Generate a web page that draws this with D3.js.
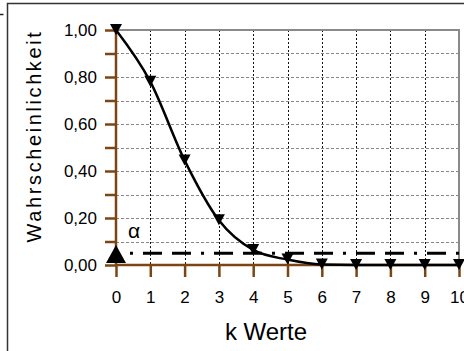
<!DOCTYPE html>
<html>
<head>
<meta charset="utf-8">
<script src="https://cdnjs.cloudflare.com/ajax/libs/d3/7.8.5/d3.min.js"></script>
<style>
  body { margin: 0; background: #fff; }
  text { font-family: Arial, "Liberation Sans", sans-serif; }
</style>
</head>
<body>
<script>
'use strict';

// chart values
const kValues = [0, 1, 2, 3, 4, 5, 6, 7, 8, 9, 10];
const probValues = [1.00, 0.78, 0.445, 0.19, 0.064, 0.023, 0.002, 0.0, 0.0, 0.0, 0.0];
const yTickValues = [0, 0.1, 0.2, 0.3, 0.4, 0.5, 0.6, 0.7, 0.8, 0.9, 1.0];
const alphaLevel = 0.05;

(function() {
  const brown = "#7c4614";

  const svg = d3.select('body')
    .append('svg')
    .attr('width', 464)
    .attr('height', 351);

  // outer frame (only left and top edges visible)
  svg.append('path')
    .attr('d', 'M7.5,360 L7.5,3.5 L470,3.5')
    .attr('fill', 'none')
    .attr('stroke', '#333')
    .attr('stroke-width', 1.5);
  svg.append('line')
    .attr('x1', 0).attr('x2', 3.5)
    .attr('y1', 14.5).attr('y2', 14.5)
    .attr('stroke', '#222').attr('stroke-width', 1.5);

  const xScale = d3.scaleLinear().domain([0, 10]).range([116, 459]);
  const yScale = d3.scaleLinear().domain([0, 1]).range([265, 30]);

  // horizontal grid (gray dotted)
  svg.append('g')
    .selectAll('line')
    .data(yTickValues.filter(v => v > 0 && v < 1))
    .enter()
    .append('line')
      .attr('x1', xScale(0)).attr('x2', xScale(10))
      .attr('y1', d => Math.round(yScale(d)) + 0.5)
      .attr('y2', d => Math.round(yScale(d)) + 0.5)
      .attr('stroke', '#888')
      .attr('stroke-width', 1)
      .attr('stroke-dasharray', '3,2');

  // vertical grid (black dotted)
  svg.append('g')
    .selectAll('line')
    .data(kValues.filter(k => k > 0 && k < 10))
    .enter()
    .append('line')
      .attr('x1', d => Math.round(xScale(d)) + 0.5)
      .attr('x2', d => Math.round(xScale(d)) + 0.5)
      .attr('y1', yScale(1)).attr('y2', yScale(0))
      .attr('stroke', '#111')
      .attr('stroke-width', 1)
      .attr('stroke-dasharray', '2,2');

  // top and right plot border (gray)
  svg.append('path')
    .attr('d', `M${xScale(0)},${yScale(1)} L${xScale(10)},${yScale(1)} L${xScale(10)},${yScale(0)}`)
    .attr('fill', 'none')
    .attr('stroke', '#8a8a8a')
    .attr('stroke-width', 2);

  // alpha line (dash-dot)
  svg.append('line')
    .attr('x1', 130).attr('x2', xScale(10))
    .attr('y1', yScale(alphaLevel)).attr('y2', yScale(alphaLevel))
    .attr('stroke', '#000')
    .attr('stroke-width', 3)
    .attr('stroke-dasharray', '3,10,19,10,19,10');

  // axes
  const yAxis = d3.axisLeft(yScale)
    .tickValues(yTickValues)
    .tickSize(11)
    .tickPadding(8)
    .tickFormat(d => (Math.round(d * 10) % 2 === 0) ? d3.format('.2f')(d).replace('.', ',') : '');
  const gy = svg.append('g')
    .attr('transform', `translate(${xScale(0)},0)`)
    .call(yAxis);

  const xAxis = d3.axisBottom(xScale)
    .tickValues(kValues)
    .tickSize(12)
    .tickPadding(14)
    .tickFormat(d3.format('d'));
  const gx = svg.append('g')
    .attr('transform', `translate(0,${yScale(0)})`)
    .call(xAxis);

  [gx, gy].forEach(g => {
    g.select('.domain').attr('stroke', brown).attr('stroke-width', 2.5);
    g.selectAll('.tick line').attr('stroke', brown).attr('stroke-width', 2.5);
    g.selectAll('.tick text')
      .attr('fill', '#000')
      .style('font-size', '17px')
      .style('font-family', 'Arial, "Liberation Sans", sans-serif');
  });
  gy.select('.domain').attr('d', `M0,${yScale(0)}V${yScale(1)}`);
  gx.select('.domain').attr('d', `M${xScale(0)},0H${xScale(10)}`);

  // curve
  const line = d3.line()
    .x((d, i) => xScale(kValues[i]))
    .y(d => yScale(d))
    .curve(d3.curveMonotoneX);
  svg.append('path')
    .datum(probValues)
    .attr('d', line)
    .attr('fill', 'none')
    .attr('stroke', '#000')
    .attr('stroke-width', 2.5);

  // down triangle markers
  svg.append('g')
    .selectAll('path')
    .data(probValues)
    .enter()
    .append('path')
      .attr('d', (d, i) => {
        const x = xScale(kValues[i]);
        const y = yScale(d);
        return `M${x - 6},${y - 6} L${x + 6},${y - 6} L${x},${y + 5} Z`;
      })
      .attr('fill', '#000');

  // alpha marker and label
  const ax = xScale(0), ay = yScale(0);
  svg.append('path')
    .attr('d', `M${ax - 10},${ay - 2} L${ax + 10},${ay - 2} L${ax},${ay - 20} Z`)
    .attr('fill', '#000');
  svg.append('text')
    .attr('x', 128)
    .attr('y', 238)
    .style('font-size', '21px')
    .text('α');

  // axis labels
  svg.append('text')
    .attr('x', 266)
    .attr('y', 340)
    .attr('text-anchor', 'middle')
    .style('font-size', '24px')
    .text('k Werte');

  svg.append('text')
    .attr('transform', 'translate(41, 136)rotate(-90)')
    .attr('text-anchor', 'middle')
    .style('font-size', '20px')
    .style('letter-spacing', '2.6px')
    .text('Wahrscheinlichkeit');
})();
</script>
</body>
</html>
